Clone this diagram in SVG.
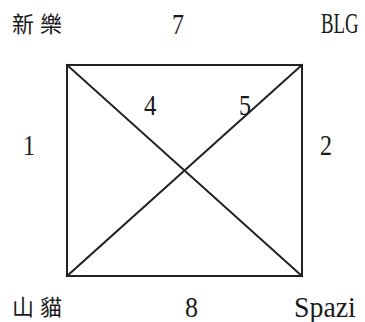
<svg xmlns="http://www.w3.org/2000/svg" width="365" height="322" viewBox="0 0 365 322">
<style>
.edge{stroke:#222;stroke-width:2;fill:none;stroke-linecap:square}
.lat{font-family:"Liberation Serif","Noto Sans CJK TC",serif;font-size:29px;fill:#1a1a1a}
.cjk{font-family:"Noto Sans CJK TC","Noto Sans CJK SC",sans-serif;font-size:22px;letter-spacing:6px;fill:#1a1a1a}
</style>
<rect width="365" height="322" fill="#fff"/>
<g id="connectors">
<line class="edge" x1="67" y1="65" x2="302" y2="65"/>
<line class="edge" x1="67" y1="276" x2="302" y2="276"/>
<line class="edge" x1="67" y1="65" x2="67" y2="276"/>
<line class="edge" x1="302" y1="65" x2="302" y2="276"/>
<line class="edge" x1="67" y1="65" x2="302" y2="276"/>
<line class="edge" x1="67" y1="276" x2="302" y2="65"/>
</g>
<g id="edge-labels">
<text class="lat" transform="translate(172,34) scale(0.83,1)">7</text>
<text class="lat" transform="translate(185,317) scale(0.9,1)">8</text>
<text class="lat" transform="translate(23,155) scale(0.83,1)">1</text>
<text class="lat" transform="translate(320,155) scale(0.83,1)">2</text>
<text class="lat" transform="translate(144,115) scale(0.86,1)">4</text>
<text class="lat" transform="translate(239,115) scale(0.83,1)">5</text>
</g>
<g id="node-xinle"><text class="cjk" x="12" y="32">新樂</text></g>
<g id="node-blg"><text class="lat" transform="translate(321,33) scale(0.65,1)">BLG</text></g>
<g id="node-shanmao"><text class="cjk" x="12" y="315">山貓</text></g>
<g id="node-spazi"><text class="lat" transform="translate(294,317) scale(0.96,1)">Spazi</text></g>
</svg>
